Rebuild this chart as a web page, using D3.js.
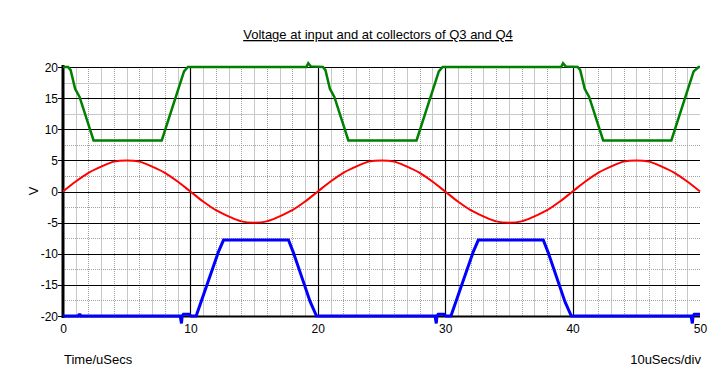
<!DOCTYPE html>
<html>
<head>
<meta charset="utf-8">
<script src="https://cdn.jsdelivr.net/npm/d3@7"></script>
<style>
    body { margin: 0; background: #fff; }
    text { font-family: "Liberation Sans", Arial, sans-serif; font-size: 12px; fill: #000; }
    .name { font-size: 13px; }
</style>
</head>
<body>
<div id="chart"></div>
<script>

// tick labels
var xTicks = [0, 10, 20, 30, 40, 50];
var yTicks = [-20, -15, -10, -5, 0, 5, 10, 15, 20];

// input voltage (red), sampled every 1 us
var inputTime = [0,1,2,3,4,5,6,7,8,9,10,11,12,13,14,15,16,17,18,19,20,
    21,22,23,24,25,26,27,28,29,30,31,32,33,34,35,36,37,38,39,40,
    41,42,43,44,45,46,47,48,49,50];
var inputVolts = [0,1.6,3.0,4.0,4.8,5.0,4.8,4.0,3.0,1.6,0,-1.6,-3.0,-4.0,-4.8,-5.0,-4.8,-4.0,-3.0,-1.6,0,
    1.6,3.0,4.0,4.8,5.0,4.8,4.0,3.0,1.6,0,-1.6,-3.0,-4.0,-4.8,-5.0,-4.8,-4.0,-3.0,-1.6,0,
    1.6,3.0,4.0,4.8,5.0,4.8,4.0,3.0,1.6,0];

// collector Q3 (green)
var q3Time = [0,0.4,0.6,0.95,1.3,2.4,7.75,9.5,9.8,19.1,19.25,19.45,20.4,20.6,20.95,21.3,22.4,27.75,29.5,29.8,
    39.1,39.25,39.45,40.4,40.6,40.95,41.3,42.4,47.75,49.5,49.9,50];
var q3Volts = [20,20,19.5,16.5,15.2,8.2,8.2,19.3,20,20,20.6,20.1,20,19.5,16.5,15.2,8.2,8.2,19.3,20,
    20,20.6,20.1,20,19.5,16.5,15.2,8.2,8.2,19.3,20,20];

// collector Q4 (blue)
var q4Time = [0,1.2,1.25,1.35,1.4,9.2,9.3,9.35,9.45,9.9,10.05,10.45,12.2,12.6,17.7,18.1,18.95,19.4,19.9,
    29.2,29.3,29.35,29.45,29.9,30.05,30.45,32.2,32.6,37.7,38.1,38.95,39.4,39.9,
    49.3,49.4,49.45,49.55,50];
var q4Volts = [-20,-20,-19.8,-19.8,-20,-20,-21.2,-20,-19.7,-19.7,-20,-20,-9.7,-7.8,-7.8,-9.9,-15,-17.7,-20,
    -20,-21.2,-20,-19.7,-19.7,-20,-20,-9.7,-7.8,-7.8,-9.9,-15,-17.7,-20,
    -20,-21.2,-20,-19.7,-19.7];

var W = 718, H = 380;
var margin = { top: 67, right: 18, bottom: 64, left: 63 };

var svg = d3.select("#chart").append("svg")
    .attr("width", W)
    .attr("height", H);

var x = d3.scaleLinear().domain([0, 50]).range([margin.left, W - margin.right]);
var y = d3.scaleLinear().domain([-20, 20]).range([H - margin.bottom, margin.top]);

var grid = svg.append("g").attr("class", "grid");

// minor vertical grid, every 1 us
d3.range(1, 50).filter(function(d) { return d % 10 != 0; }).forEach(function(d) {
    grid.append("line")
        .attr("x1", Math.round(x(d)) + 0.5).attr("x2", Math.round(x(d)) + 0.5)
        .attr("y1", y(20)).attr("y2", y(-20))
        .attr("stroke", d % 2 ? "#c8c8c8" : "#a0a0a0")
        .attr("stroke-dasharray", d % 2 ? null : "1,1");
});

// minor horizontal grid, every 2.5 V
d3.range(-17.5, 20, 5).forEach(function(d) {
    grid.append("line")
        .attr("x1", x(0)).attr("x2", x(50))
        .attr("y1", Math.round(y(d)) + 0.5).attr("y2", Math.round(y(d)) + 0.5)
        .attr("stroke", d > 10 ? "#c8c8c8" : "#a0a0a0")
        .attr("stroke-dasharray", d > 10 ? null : "1,1");
});

// major grid
xTicks.filter(function(d) { return d > 0 && d < 50; }).forEach(function(d) {
    grid.append("line")
        .attr("x1", Math.round(x(d)) + 0.5).attr("x2", Math.round(x(d)) + 0.5)
        .attr("y1", y(20)).attr("y2", y(-20))
        .attr("stroke", "#000").attr("stroke-width", 1.2);
});
yTicks.forEach(function(d) {
    grid.append("line")
        .attr("x1", x(0) - 5).attr("x2", x(50))
        .attr("y1", Math.round(y(d)) + 0.5).attr("y2", Math.round(y(d)) + 0.5)
        .attr("stroke", "#000").attr("stroke-width", 1.2);
});

// axes lines
svg.append("line")
    .attr("x1", x(0)).attr("x2", x(0))
    .attr("y1", y(20) - 2).attr("y2", y(-20) + 2)
    .attr("stroke", "#000").attr("stroke-width", 3);
svg.append("line")
    .attr("x1", x(0)).attr("x2", x(50))
    .attr("y1", y(-20) + 0.5).attr("y2", y(-20) + 0.5)
    .attr("stroke", "#000").attr("stroke-width", 2);

// tick labels
svg.selectAll(".ylab")
    .data(yTicks)
    .enter().append("text")
    .attr("class", "ylab")
    .attr("x", x(0) - 5)
    .attr("y", function(d) { return y(d) + 4.5; })
    .attr("text-anchor", "end")
    .text(function(d) { return d; });

svg.selectAll(".xlab")
    .data(xTicks)
    .enter().append("text")
    .attr("class", "xlab")
    .attr("x", function(d) { return x(d) + 0.5; })
    .attr("y", 333)
    .attr("text-anchor", "middle")
    .text(function(d) { return d; });

// series
function series(t, v) {
    return t.map(function(d, i) { return { t: d, v: v[i] }; });
}

var line = d3.line()
    .x(function(d) { return x(d.t); })
    .y(function(d) { return y(d.v); });

var smooth = d3.line()
    .x(function(d) { return x(d.t); })
    .y(function(d) { return y(d.v); })
    .curve(d3.curveCatmullRom.alpha(0.5));

svg.append("path")
    .attr("d", smooth(series(inputTime, inputVolts)))
    .attr("fill", "none")
    .attr("stroke", "#ff0000")
    .attr("stroke-width", 2);

svg.append("path")
    .attr("d", line(series(q3Time, q3Volts)))
    .attr("fill", "none")
    .attr("stroke", "#008000")
    .attr("stroke-width", 2.5);

svg.append("path")
    .attr("d", line(series(q4Time, q4Volts)))
    .attr("fill", "none")
    .attr("stroke", "#0000ff")
    .attr("stroke-width", 3);

// titles
svg.append("text")
    .attr("class", "name")
    .attr("x", 378)
    .attr("y", 39)
    .attr("text-anchor", "middle")
    .style("text-decoration", "underline")
    .text("Voltage at input and at collectors of Q3 and Q4");

svg.append("text")
    .attr("class", "name")
    .attr("transform", "translate(38,191) rotate(-90)")
    .attr("text-anchor", "middle")
    .text("V");

svg.append("text")
    .attr("class", "name")
    .attr("x", 64)
    .attr("y", 364)
    .text("Time/uSecs");

svg.append("text")
    .attr("class", "name")
    .attr("x", 701)
    .attr("y", 364)
    .attr("text-anchor", "end")
    .text("10uSecs/div");

</script>
</body>
</html>
